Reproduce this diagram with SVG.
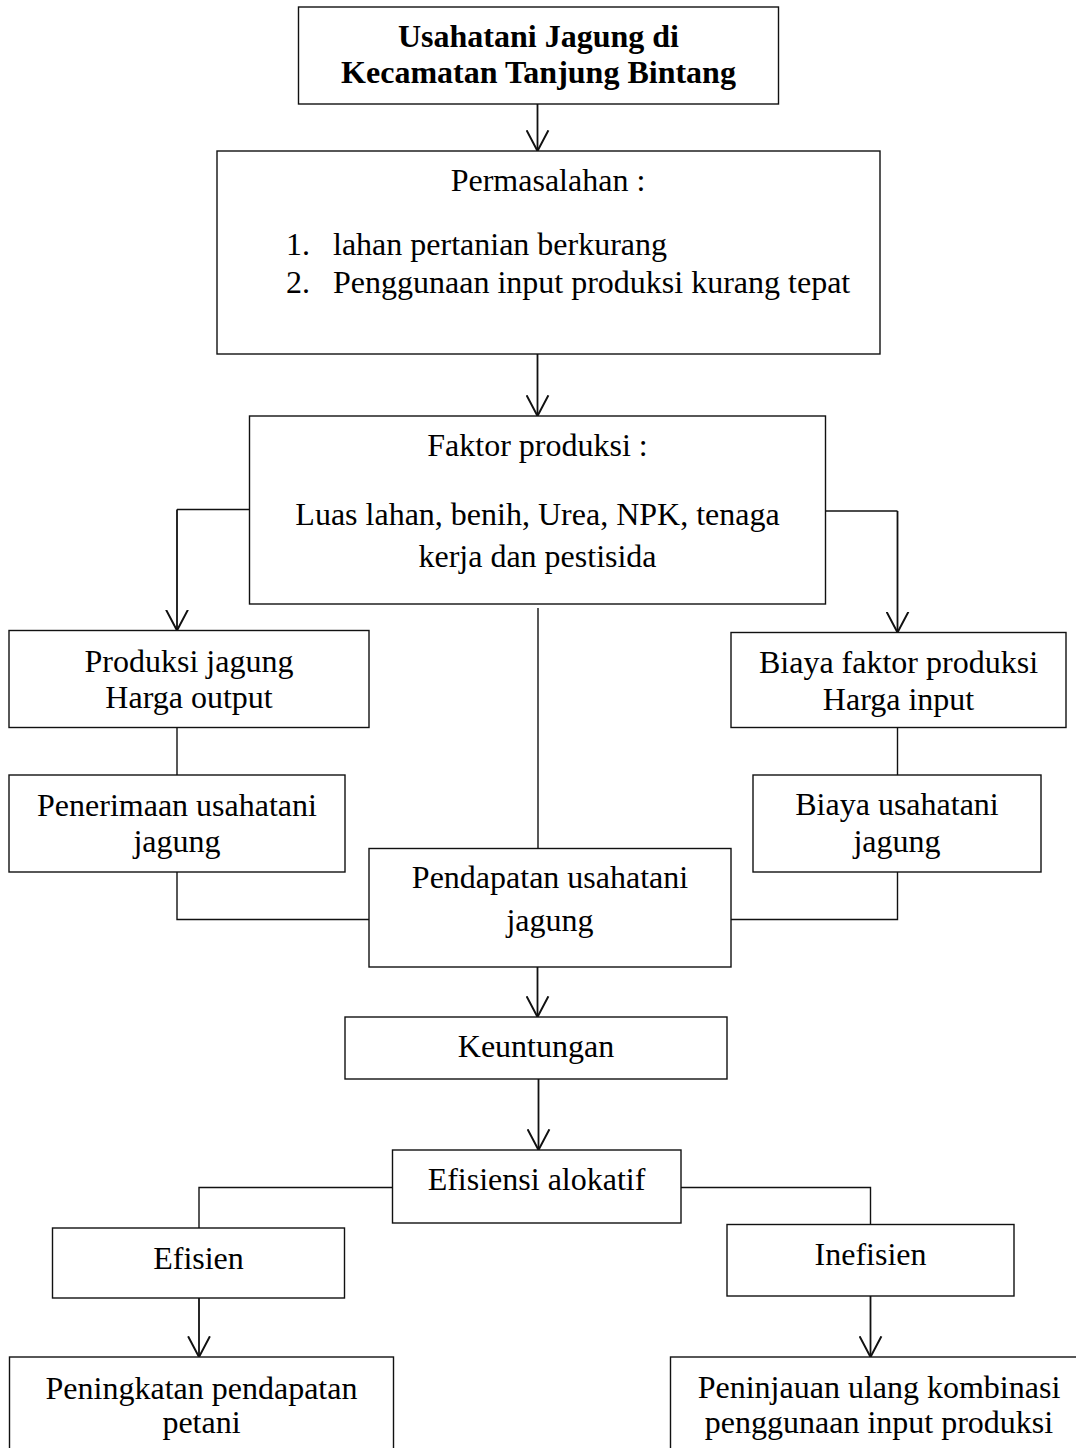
<svg xmlns="http://www.w3.org/2000/svg" width="1076" height="1448" viewBox="0 0 1076 1448">
<defs>
<style>
.box{fill:#fff;stroke:#111;stroke-width:1.4}
.t{font-family:"Liberation Serif","Times New Roman",serif;font-size:32px;fill:#000;text-anchor:middle}
.b{font-weight:bold}
.l{text-anchor:start}
.c{fill:none;stroke:#111;stroke-width:1.4}
.a{fill:none;stroke:#111;stroke-width:1.8}
</style>
<marker id="arr" markerUnits="userSpaceOnUse" markerWidth="22" markerHeight="24" viewBox="0 0 20 22" refX="19" refY="11" orient="auto">
<path d="M0,1 L19,11 L0,21" fill="none" stroke="#111" stroke-width="1.8"/>
</marker>
</defs>
<rect width="1076" height="1448" fill="#fff"/>
<g id="connectors">
<path class="a" d="M537.5,104 V151" marker-end="url(#arr)"/>
<path class="a" d="M537.5,354 V416" marker-end="url(#arr)"/>
<path class="c" d="M249,509.5 H177"/>
<path class="a" d="M177,509.5 V630.5" marker-end="url(#arr)"/>
<path class="c" d="M825,511 H897.5"/>
<path class="a" d="M897.5,511 V632.5" marker-end="url(#arr)"/>
<path class="c" d="M177,727.5 V775"/>
<path class="c" d="M897.5,727.5 V775"/>
<path class="c" d="M538,608 V848.5"/>
<path class="c" d="M177,872 V919.5 H369"/>
<path class="c" d="M897.5,872 V919.5 H731"/>
<path class="a" d="M537.5,967 V1017" marker-end="url(#arr)"/>
<path class="a" d="M538.5,1079 V1150" marker-end="url(#arr)"/>
<path class="c" d="M392.5,1187.5 H199 V1228"/>
<path class="c" d="M681,1187.5 H870.5 V1224.5"/>
<path class="a" d="M199,1298 V1357" marker-end="url(#arr)"/>
<path class="a" d="M870.5,1296 V1357" marker-end="url(#arr)"/>
</g>
<g id="n1">
<rect class="box" x="298.5" y="7" width="480" height="97"/>
<text class="t b" x="538.5" y="47">Usahatani Jagung di</text>
<text class="t b" x="538.5" y="83">Kecamatan Tanjung Bintang</text>
</g>
<g id="n2">
<rect class="box" x="217" y="151" width="663" height="203"/>
<text class="t" x="548" y="191">Permasalahan :</text>
<text class="t l" x="286" y="255">1.</text>
<text class="t l" x="333" y="255">lahan pertanian berkurang</text>
<text class="t l" x="286" y="293">2.</text>
<text class="t l" x="333" y="293">Penggunaan input produksi kurang tepat</text>
</g>
<g id="n3">
<rect class="box" x="249.5" y="416" width="576" height="188"/>
<text class="t" x="537.5" y="456">Faktor produksi :</text>
<text class="t" x="537.5" y="525">Luas lahan, benih, Urea, NPK, tenaga</text>
<text class="t" x="537.5" y="567">kerja dan pestisida</text>
</g>
<g id="n4">
<rect class="box" x="9" y="630.5" width="360" height="97"/>
<text class="t" x="189" y="672">Produksi jagung</text>
<text class="t" x="189" y="708">Harga output</text>
</g>
<g id="n5">
<rect class="box" x="731" y="632.5" width="335" height="95"/>
<text class="t" x="898.5" y="673">Biaya faktor produksi</text>
<text class="t" x="898.5" y="710">Harga input</text>
</g>
<g id="n6">
<rect class="box" x="9" y="775" width="336" height="97"/>
<text class="t" x="177" y="816">Penerimaan usahatani</text>
<text class="t" x="177" y="852">jagung</text>
</g>
<g id="n7">
<rect class="box" x="753" y="775" width="288" height="97"/>
<text class="t" x="897" y="815">Biaya usahatani</text>
<text class="t" x="897" y="852">jagung</text>
</g>
<g id="n8">
<rect class="box" x="369" y="848.5" width="362" height="118.5"/>
<text class="t" x="550" y="888">Pendapatan usahatani</text>
<text class="t" x="550" y="931">jagung</text>
</g>
<g id="n9">
<rect class="box" x="345" y="1017" width="382" height="62"/>
<text class="t" x="536" y="1057">Keuntungan</text>
</g>
<g id="n10">
<rect class="box" x="392.5" y="1150" width="288.5" height="73"/>
<text class="t" x="536.5" y="1190">Efisiensi alokatif</text>
</g>
<g id="n11">
<rect class="box" x="52.5" y="1228" width="292" height="70"/>
<text class="t" x="198.5" y="1268.5">Efisien</text>
</g>
<g id="n12">
<rect class="box" x="727" y="1224.5" width="287" height="71.5"/>
<text class="t" x="870.5" y="1265">Inefisien</text>
</g>
<g id="n13">
<rect class="box" x="9.5" y="1357" width="384" height="110"/>
<text class="t" x="201.5" y="1399">Peningkatan pendapatan</text>
<text class="t" x="201.5" y="1433">petani</text>
</g>
<g id="n14">
<rect class="box" x="670.5" y="1357" width="420" height="110"/>
<text class="t" x="879" y="1398">Peninjauan ulang kombinasi</text>
<text class="t" x="879" y="1433">penggunaan input produksi</text>
</g>
</svg>
